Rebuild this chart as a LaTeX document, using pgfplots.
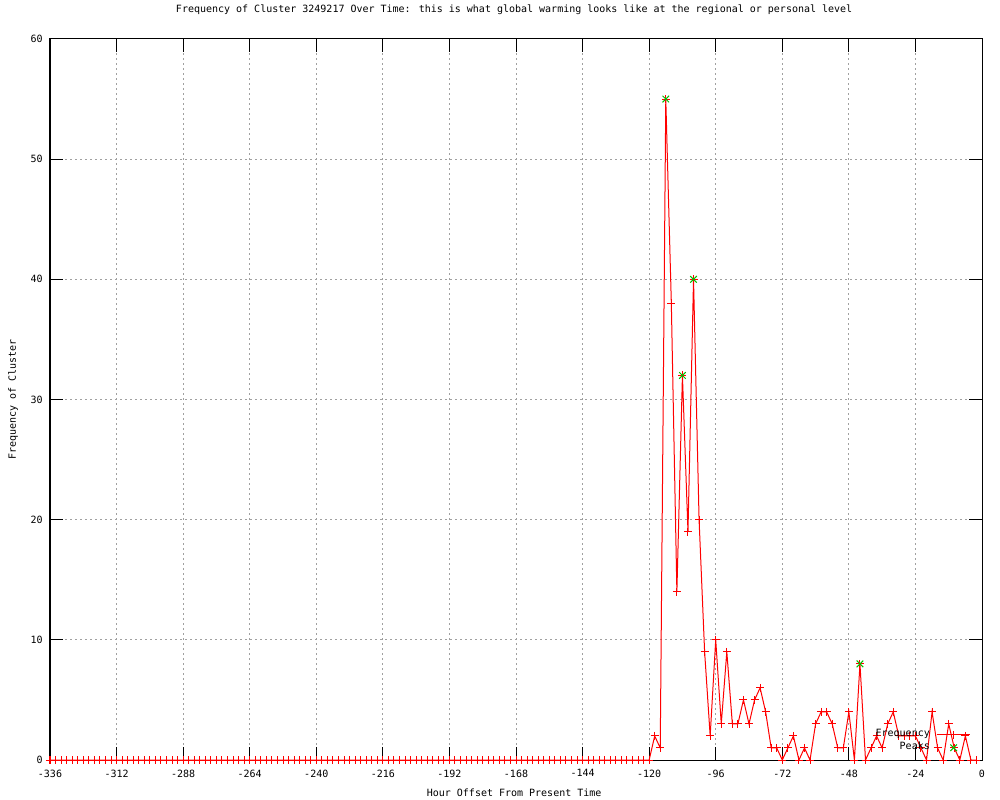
\documentclass[border=0pt]{standalone}
\usepackage{pgfplots}
\pgfplotsset{compat=1.18}
\usepackage{pgfplotstable}
\usepackage{fontspec}
\setmainfont{DejaVu Sans Mono}
\definecolor{gpred}{RGB}{255,0,0}
\definecolor{gpgreen}{RGB}{0,192,0}
\definecolor{gridgray}{RGB}{160,160,160}
\pgfplotstableread{
x y
-336 0
-334 0
-332 0
-330 0
-328 0
-326 0
-324 0
-322 0
-320 0
-318 0
-316 0
-314 0
-312 0
-310 0
-308 0
-306 0
-304 0
-302 0
-300 0
-298 0
-296 0
-294 0
-292 0
-290 0
-288 0
-286 0
-284 0
-282 0
-280 0
-278 0
-276 0
-274 0
-272 0
-270 0
-268 0
-266 0
-264 0
-262 0
-260 0
-258 0
-256 0
-254 0
-252 0
-250 0
-248 0
-246 0
-244 0
-242 0
-240 0
-238 0
-236 0
-234 0
-232 0
-230 0
-228 0
-226 0
-224 0
-222 0
-220 0
-218 0
-216 0
-214 0
-212 0
-210 0
-208 0
-206 0
-204 0
-202 0
-200 0
-198 0
-196 0
-194 0
-192 0
-190 0
-188 0
-186 0
-184 0
-182 0
-180 0
-178 0
-176 0
-174 0
-172 0
-170 0
-168 0
-166 0
-164 0
-162 0
-160 0
-158 0
-156 0
-154 0
-152 0
-150 0
-148 0
-146 0
-144 0
-142 0
-140 0
-138 0
-136 0
-134 0
-132 0
-130 0
-128 0
-126 0
-124 0
-122 0
-120 0
-118 2
-116 1
-114 55
-112 38
-110 14
-108 32
-106 19
-104 40
-102 20
-100 9
-98 2
-96 10
-94 3
-92 9
-90 3
-88 3
-86 5
-84 3
-82 5
-80 6
-78 4
-76 1
-74 1
-72 0
-70 1
-68 2
-66 0
-64 1
-62 0
-60 3
-58 4
-56 4
-54 3
-52 1
-50 1
-48 4
-46 0
-44 8
-42 0
-40 1
-38 2
-36 1
-34 3
-32 4
-30 2
-28 2
-26 2
-24 2
-22 1
-20 0
-18 4
-16 1
-14 0
-12 3
-10 1
-8 0
-6 2
-4 0
-2 0
}\freqdata
\pgfplotstableread{
x y
-114 55
-108 32
-104 40
-44 8
}\peakdata
\begin{document}
\fontsize{7.5pt}{9pt}\selectfont
\begin{tikzpicture}
\useasboundingbox (0,0) rectangle (750pt,600pt);
\begin{axis}[
  at={(37.5pt,30pt)}, anchor=south west,
  scale only axis, width=699pt, height=540.75pt,
  xmin=-336, xmax=0, ymin=0, ymax=60,
  xtick={-336,-312,...,0}, ytick={0,10,...,60},
  /pgf/number format/assume math mode=true,
  tick label style={font=\fontsize{7.5pt}{9pt}\selectfont},
  xticklabel style={yshift=-4.5pt},
  yticklabel style={xshift=-2.75pt},
  major tick length=10pt,
  tick style={black, line width=0.75pt},
  axis line style={black, line width=0.75pt},
  grid=major,
  major grid style={gridgray, line width=0.75pt, dash pattern=on 1.5pt off 2.25pt},
  title={Frequency of Cluster 3249217 Over Time: this is what global warming looks like at the regional or personal level},
  title style={at={(axis description cs:0.498,1.0291)}, anchor=center, font=\fontsize{7.5pt}{9pt}\selectfont, inner sep=0pt},
  xlabel={Hour Offset From Present Time},
  xlabel style={at={(axis description cs:0.498,-0.0458)}, anchor=center, font=\fontsize{7.5pt}{9pt}\selectfont, inner sep=0pt},
  ylabel={Frequency of Cluster},
  ylabel style={at={(axis description cs:-0.0397,0.5)}, anchor=center, font=\fontsize{7.5pt}{9pt}\selectfont, inner sep=0pt},
  legend plot pos=right,
  legend cell align=right,
  legend style={draw=none, fill=none, inner sep=0pt, outer sep=0pt,
    at={(rel axis cs:0.988,0.044)}, anchor=north east,
    font=\fontsize{7.5pt}{9pt}\selectfont,
    row sep=0pt, column sep=5pt,
    nodes={inner sep=0pt, text height=6.25pt, text depth=3.5pt}},
]
\addplot[gpred, line width=0.75pt, mark=+, mark size=3pt,
  mark options={line width=0.75pt, solid},
  legend image code/.code={\draw[mark repeat=2,mark phase=2] plot coordinates {(0pt,0pt)(12.5pt,0pt)(25pt,0pt)};}]
  table[x=x,y=y] {\freqdata};
\addlegendentry{Frequency}
\addplot[gpgreen, only marks, mark=x, mark size=3.5pt,
  mark options={line width=0.75pt},
  legend image code/.code={\draw[only marks] plot coordinates {(12.5pt,0pt)};}]
  table[x=x,y=y] {\peakdata};
\addlegendentry{Peaks}
\end{axis}
\end{tikzpicture}
\end{document}
